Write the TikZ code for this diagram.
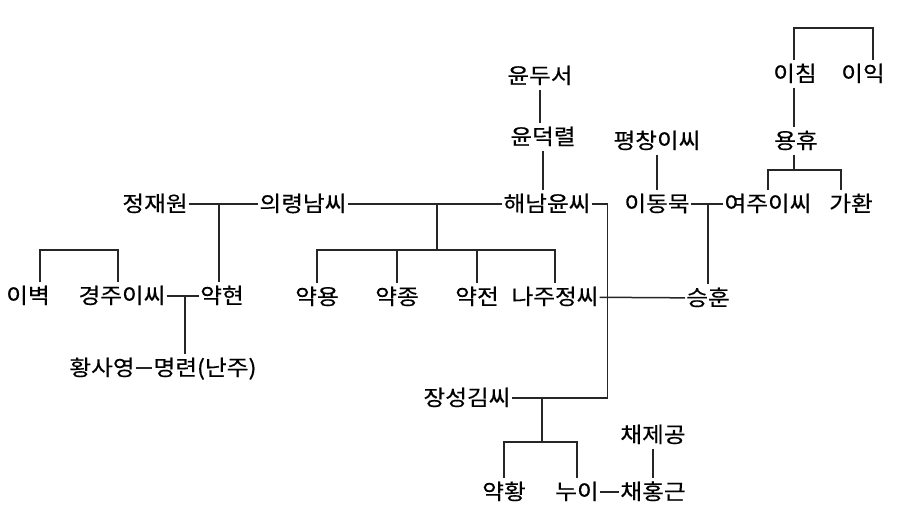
\documentclass[tikz,border=0pt]{standalone}
\usepackage{fontspec}
\usepackage{tikz}
\usetikzlibrary{positioning,calc}
\newfontfamily\kr[FakeStretch=1.1,FakeBold=0.4]{Noto Sans CJK KR}

\begin{document}
\begin{tikzpicture}[x=1pt, y=-1pt,
		person/.style={font=\kr\fontsize{21.5}{24}\selectfont, inner xsep=1pt, inner ysep=4pt, text height=17pt, text depth=2pt},
		kin/.style={line width=1.5pt, color=black!85}]
			\fill[white] (0,0) rectangle (913,521);
			\useasboundingbox (0,0) rectangle (913,521);
			% Yun side
			\node [person] (ydseo) at (540,76) {윤두서};
			\node [person] (ydr) at (543,137) {윤덕렬};
			\node [person] (hnyun) at (547,204) {해남윤씨};
			\node [person] (uirn) at (303,204) {의령남씨};
			\node [person] (jjw) at (155,204) {정재원};
			% children
			\node [person] (yh) at (222,296) {약현};
			\node [person] (gjlee) at (122,296) {경주이씨};
			\node [person] (byeok) at (28,296) {이벽};
			\node [person] (hsy) at (102,368) {황사영};
			\node [person] (myr) at (205,368) {명련(난주)};
			\node [person] (yy) at (317,297) {약용};
			\node [person] (yj) at (397,297) {약종};
			\node [person] (yjn) at (477,297) {약전};
			\node [person] (njjeong) at (555,297) {나주정씨};
			\node [person] (sh) at (708,298) {승훈};
			\node [person] (jskim) at (467,398) {장성김씨};
			\node [person] (yhw) at (504,492) {약황};
			\node [person] (nui) at (577,492) {누이};
			\node [person] (chg) at (653,492) {채홍근};
			\node [person] (cjg) at (653,435) {채제공};
			% Lee side
			\node [person] (ichim) at (795,74) {이침};
			\node [person] (iik) at (863,74) {이익};
			\node [person] (yhyu) at (796,141) {용휴};
			\node [person] (yjlee) at (768,204) {여주이씨};
			\node [person] (gh) at (851,204) {가환};
			\node [person] (pclee) at (657,141) {평창이씨};
			\node [person] (ldm) at (657,204) {이동묵};
			
			\coordinate (m1) at (219,204);
			\coordinate (m2) at (437,204);
			\coordinate (s2) at (437,250);
			\coordinate (m3) at (542,399);
			\coordinate (s3) at (542,442);
			\coordinate (m4) at (185,296);
			\coordinate (m5) at (708,204);
			\coordinate (s4) at (794,170);
			\coordinate (sib1) at (79,250);
			\coordinate (sib2) at (833,28);
			
			\draw [kin] (ydseo.south) -- (ydseo.south |- ydr.north);
			\draw [kin] (ydr.south) -- (ydr.south |- hnyun.north);
			\draw [kin] (jjw) -- (uirn);
			\draw [kin] (uirn) -- (hnyun);
			\draw [kin] (m1) -- (m1 |- yh.north);
			\draw [kin] (m2) -- (s2);
			\draw [kin] (yy.north) |- (s2) -| (njjeong.north);
			\draw [kin] (yj.north) -- (yj.north |- s2);
			\draw [kin] (yjn.north) -- (yjn.north |- s2);
			\draw [kin] (hnyun.east) -- ++(16,0) |- (jskim.east);
			\draw [kin] (m3) -- (s3);
			\draw [kin] (yhw.north) |- (s3) -| (nui.north);
			\draw [kin] (nui) -- (chg);
			\draw [kin] (cjg.south) -- (chg.north);
			\draw [kin] (gjlee) -- (yh);
			\draw [kin] (m4) -- (m4 |- myr.north);
			\draw [kin] (hsy) -- (myr);
			\draw [kin] ([xshift=12pt]byeok.north) -- ([xshift=12pt]byeok.north |- sib1) -- ([xshift=-4pt]gjlee.north |- sib1) -- ([xshift=-4pt]gjlee.north);
			\draw [kin] ([xshift=-1pt]ichim.north) -- ([xshift=-1pt]ichim.north |- sib2) -- ([xshift=10pt]iik.north |- sib2) -- ([xshift=10pt]iik.north);
			\draw [kin] ([xshift=-1pt]ichim.south) -- ([xshift=-1pt]ichim.south |- yhyu.north);
			\draw [kin] (s4 |- yhyu.south) -- (s4);
			\draw [kin] (yjlee.north) |- (s4) -| ([xshift=-10pt]gh.north);
			\draw [kin] (pclee.south) -- (ldm.north);
			\draw [kin] (ldm) -- (yjlee);
			\draw [kin] (m5) -- (m5 |- sh.north);
			\draw [kin] (njjeong) -- (sh);
		\end{tikzpicture}
\end{document}
